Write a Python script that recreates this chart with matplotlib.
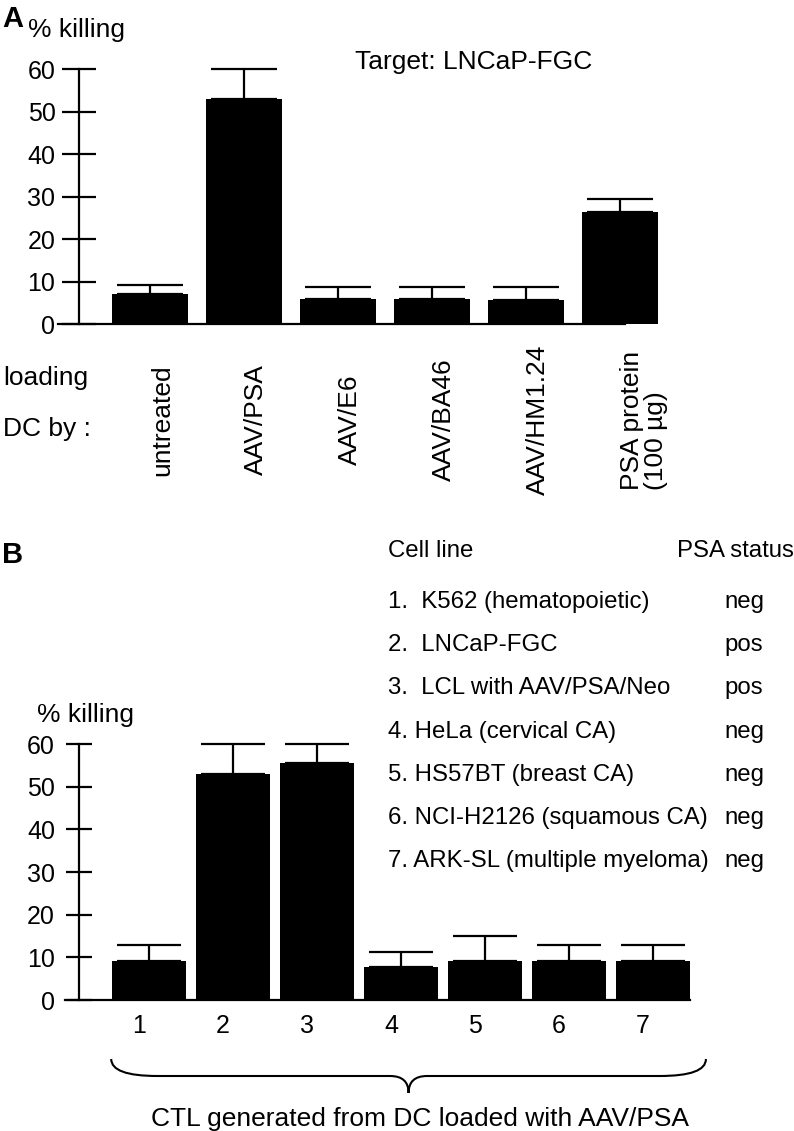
import numpy as np
import matplotlib
matplotlib.use("Agg")
from matplotlib import pyplot as plt
from matplotlib import transforms
from matplotlib.path import Path
from matplotlib.patches import PathPatch

plt.rcParams['font.family'] = ['Liberation Sans', 'DejaVu Sans']

# Panel A: killing of LNCaP-FGC by CTL from DC loaded in different ways
loading_labels = ['untreated', 'AAV/PSA', 'AAV/E6', 'AAV/BA46', 'AAV/HM1.24',
                  'PSA protein\n(100 µg)']
killing_a = [7.0, 53.0, 5.9, 5.9, 5.6, 26.4]
err_a = [2.2, 7.0, 2.8, 2.9, 3.0, 2.9]

# Panel B: killing of different target cell lines
target_ids = ['1', '2', '3', '4', '5', '6', '7']
killing_b = [9.1, 53.0, 55.5, 7.7, 9.1, 9.1, 9.1]
err_b = [3.8, 7.0, 4.5, 3.5, 5.9, 3.8, 3.8]
cell_lines = ['1.  K562 (hematopoietic)', '2.  LNCaP-FGC', '3.  LCL with AAV/PSA/Neo',
              '4. HeLa (cervical CA)', '5. HS57BT (breast CA)',
              '6. NCI-H2126 (squamous CA)', '7. ARK-SL (multiple myeloma)']
psa_status = ['neg', 'pos', 'pos', 'neg', 'neg', 'neg', 'neg']

W, H = 794, 1131
fig = plt.figure(figsize=(W / 100, H / 100), dpi=100)


def fx(px):
    return px / W


def fy(py):
    return 1 - py / H


def style_axis(ax, spine_x, tick_len, pad):
    for s in ['top', 'right']:
        ax.spines[s].set_visible(False)
    for s in ['left', 'bottom']:
        ax.spines[s].set_linewidth(1.6)
    ax.spines['left'].set_position(('data', spine_x))
    ax.set_ylim(0, 60)
    ax.set_yticks(np.arange(0, 61, 10))
    ax.tick_params(axis='y', direction='inout', length=tick_len, width=1.6,
                   labelsize=18, pad=pad)


# ---------------- Panel A ----------------
ax_a = fig.add_axes([fx(58), fy(324), fx(625) - fx(58), (324 - 69) / H])
xa = np.arange(len(killing_a))
ax_a.set_xlim(-0.979, 5.053)
ax_a.bar(xa, killing_a, width=0.81, color='black', zorder=2, clip_on=False)
ax_a.errorbar(xa, killing_a, yerr=[np.zeros(len(err_a)), err_a], fmt='none',
              ecolor='black', elinewidth=1.6, capsize=24, capthick=1.6,
              zorder=1, clip_on=False)
style_axis(ax_a, -0.755, 24, 5)
ax_a.set_xticks([])

trans_a = transforms.blended_transform_factory(ax_a.transData, fig.transFigure)
for i, lab in enumerate(loading_labels):
    ax_a.text(xa[i], fy(420), lab, rotation=90, ha='left', va='center',
              fontsize=19, linespacing=1.0, transform=trans_a)

fig.text(fx(2), fy(27), 'A', fontsize=21, fontweight='bold', va='baseline')
fig.text(fx(28), fy(37), '% killing', fontsize=19, va='baseline')
fig.text(fx(355), fy(69), 'Target: LNCaP-FGC', fontsize=19, va='baseline')
fig.text(fx(3), fy(385), 'loading', fontsize=19, va='baseline')
fig.text(fx(3), fy(436), 'DC by :', fontsize=19, va='baseline')

# ---------------- Panel B ----------------
ax_b = fig.add_axes([fx(65), fy(1000), fx(690) - fx(65), (1000 - 744) / H])
xb = np.arange(len(killing_b))
ax_b.set_xlim(-1.0, 6.44)
ax_b.bar(xb, killing_b, width=0.89, color='black', zorder=2, clip_on=False)
ax_b.errorbar(xb, killing_b, yerr=[np.zeros(len(err_b)), err_b], fmt='none',
              ecolor='black', elinewidth=1.6, capsize=23, capthick=1.6,
              zorder=1, clip_on=False)
style_axis(ax_b, -0.833, 18.7, 8)
ax_b.set_xticks(xb, target_ids)
ax_b.tick_params(axis='x', length=0, labelsize=18, pad=10)
shift = transforms.ScaledTranslation(-10 / 100, 0, fig.dpi_scale_trans)
for t in ax_b.get_xticklabels():
    t.set_transform(t.get_transform() + shift)

fig.text(fx(2), fy(563), 'B', fontsize=21, fontweight='bold', va='baseline')
fig.text(fx(37), fy(722), '% killing', fontsize=19, va='baseline')

fig.text(fx(388), fy(557), 'Cell line', fontsize=17.3, va='baseline')
fig.text(fx(677), fy(557), 'PSA status', fontsize=17.3, va='baseline')
for i, (name, st) in enumerate(zip(cell_lines, psa_status)):
    yb = 608 + 43.2 * i
    fig.text(fx(388), fy(yb), name, fontsize=17.3, va='baseline')
    fig.text(fx(724), fy(yb), st, fontsize=17.3, va='baseline')

# brace under panel B
trans_b = transforms.blended_transform_factory(ax_b.transData, fig.transFigure)
xl, xr = -0.45, 6.63
xm = (xl + xr) / 2
ytop, ymid, ytip = fy(1059), fy(1076), fy(1093)
c, t = 0.55, 0.22
verts = [(xl, ytop), (xl, ymid), (xl + c, ymid), (xm - t, ymid),
         (xm, ymid), (xm, ytip), (xm, ymid), (xm + t, ymid),
         (xr - c, ymid), (xr, ymid), (xr, ytop)]
codes = [Path.MOVETO, Path.CURVE3, Path.CURVE3, Path.LINETO,
         Path.CURVE3, Path.CURVE3, Path.CURVE3, Path.CURVE3,
         Path.LINETO, Path.CURVE3, Path.CURVE3]
brace = PathPatch(Path(verts, codes), fill=False, lw=1.5, edgecolor='black',
                  transform=trans_b, clip_on=False)
ax_b.add_patch(brace)

fig.text(fx(420), fy(1126), 'CTL generated from DC loaded with AAV/PSA',
         fontsize=19, ha='center', va='baseline')

fig.savefig('out.png', dpi=100)
